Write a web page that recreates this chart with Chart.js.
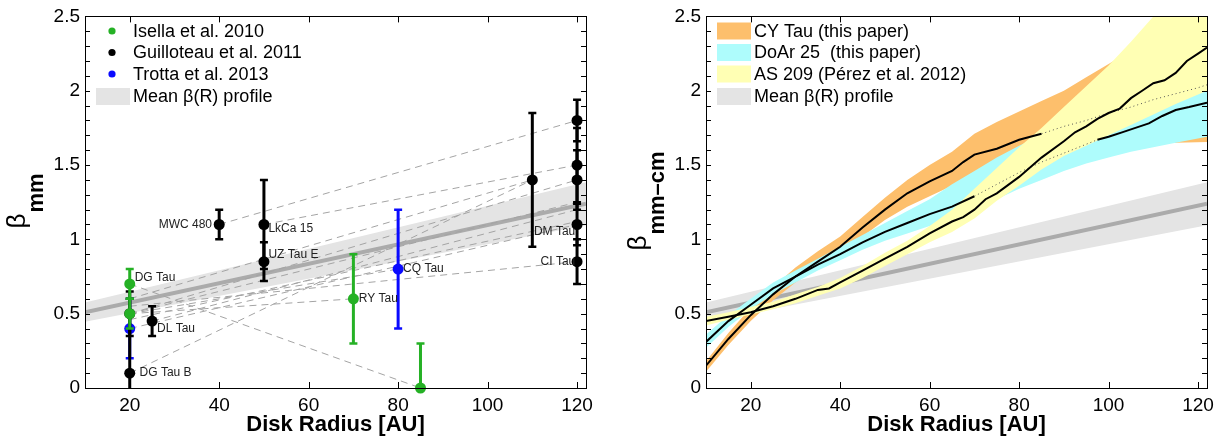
<!DOCTYPE html>
<html><head><meta charset="utf-8">
<script src="https://cdn.jsdelivr.net/npm/chart.js@4"></script>
<style>
html,body{margin:0;padding:0;background:#fff;}
#wrap{position:relative;width:1226px;height:438px;overflow:hidden;}
.pane{position:absolute;top:0;width:613px;height:438px;}
canvas{display:block;}
</style></head><body>
<div id="wrap">
<div class="pane" style="left:0"><canvas id="c1" width="613" height="438" style="width:613px;height:438px"></canvas></div>
<div class="pane" style="left:613px"><canvas id="c2" width="613" height="438" style="width:613px;height:438px"></canvas></div>
</div>
<script>
const FONT = '"Liberation Sans", Arial, Helvetica, sans-serif';

// ---------- shared axes ----------
const xTickValues = [20, 40, 60, 80, 100, 120];
const yTickValues = [0, 0.5, 1, 1.5, 2, 2.5];
const xTitle = 'Disk Radius [AU]';

// ---------- mean beta(R) profile ----------
const meanR = [10, 122];
const meanBeta = [0.51, 1.24];
const meanLo = [0.445, 1.095];
const meanHi = [0.575, 1.385];

// ---------- left panel: measurements ----------
const isellaR = [20, 20, 70, 85];
const isellaBeta = [0.7, 0.5, 0.6, 0.0];
const isellaLo = [0.6, 0.4, 0.3, -0.3];
const isellaHi = [0.8, 0.6, 0.9, 0.3];

const guillR = [20, 20, 25, 40, 50, 50, 110, 120, 120, 120, 120, 120];
const guillBeta = [0.5, 0.1, 0.45, 1.1, 1.1, 0.85, 1.4, 1.8, 1.5, 1.4, 1.1, 0.85];
const guillLo = [0.35, -0.4, 0.35, 1.0, 0.8, 0.72, 0.95, 1.66, 1.25, 1.2, 0.96, 0.7];
const guillHi = [0.65, 0.6, 0.55, 1.2, 1.4, 0.98, 1.85, 1.94, 1.75, 1.6, 1.24, 1.0];

const trottaR = [20, 80];
const trottaBeta = [0.4, 0.8];
const trottaLo = [0.2, 0.4];
const trottaHi = [0.6, 1.2];

// dashed connector lines (start R, start beta, end R, end beta)
const linkR0 = [40, 50, 20, 20, 20, 20, 20, 20, 20, 20, 25, 20, 20];
const linkB0 = [1.1, 1.1, 0.1, 0.7, 0.55, 0.46, 0.5, 0.5, 0.5, 0.5, 0.45, 0.6, 0.4];
const linkR1 = [120, 120, 110, 85, 120, 120, 120, 120, 80, 70, 120, 110, 120];
const linkB1 = [1.8, 1.5, 1.4, 0.0, 0.85, 1.12, 1.4, 1.25, 0.8, 0.6, 1.2, 1.4, 1.1];

const srcNames = ['DG Tau', 'DL Tau', 'DG Tau B', 'MWC 480', 'LkCa 15', 'UZ Tau E', 'RY Tau', 'CQ Tau', 'DM Tau', 'CI Tau'];
const srcLabelR = [21.1, 26.1, 22.2, 38.4, 51.0, 51.0, 71.2, 81.1, 119.6, 119.6];
const srcLabelBeta = [0.745, 0.40, 0.10, 1.10, 1.07, 0.90, 0.60, 0.80, 1.05, 0.85];
const srcLabelSide = ['left', 'left', 'left', 'right', 'left', 'left', 'left', 'left', 'right', 'right'];

const leftLegend = ['Isella et al. 2010', 'Guilloteau et al. 2011', 'Trotta et al. 2013', 'Mean β(R) profile'];

// ---------- right panel: radial profiles ----------
const cyR = [10, 15, 20, 25, 30, 35, 40, 45, 50, 55, 60, 65, 67.5, 70, 75, 80, 85, 90, 95, 100, 105, 110, 115, 120, 122];
const cyBeta = [0.15, 0.33, 0.49, 0.63, 0.75, 0.85, 0.95, 1.08, 1.20, 1.31, 1.39, 1.46, 1.52, 1.57, 1.61, 1.67, 1.71, 1.76, 1.80, 1.85, 1.89, 1.94, 1.98, 2.02, 2.04];

const doarR = [10, 15, 20, 25, 30, 35, 40, 45, 50, 55, 60, 65, 70, 75, 80, 85, 90, 95, 97.5, 100, 103, 106, 109, 112, 115, 118, 122];
const doarBeta = [0.31, 0.45, 0.56, 0.67, 0.75, 0.83, 0.90, 0.98, 1.05, 1.11, 1.17, 1.22, 1.29, 1.37, 1.45, 1.52, 1.58, 1.64, 1.67, 1.69, 1.72, 1.75, 1.78, 1.83, 1.87, 1.89, 1.92];

const asR = [10, 15, 20, 25, 30, 35, 37.5, 40, 45, 50, 55, 60, 65, 67.5, 70, 72.5, 75, 80, 85, 90, 92.5, 95, 97.5, 100, 102.5, 105, 107.5, 110, 112.5, 115, 117.5, 120, 122];
const asBeta = [0.45, 0.48, 0.51, 0.55, 0.60, 0.66, 0.67, 0.71, 0.79, 0.87, 0.95, 1.04, 1.12, 1.15, 1.20, 1.27, 1.31, 1.42, 1.55, 1.66, 1.72, 1.76, 1.81, 1.85, 1.88, 1.95, 2.00, 2.05, 2.07, 2.12, 2.20, 2.25, 2.29];

const bandR = [10, 15, 20, 25, 30, 35, 40, 45, 50, 55, 60, 65, 70, 75, 80, 85, 90, 95, 100, 105, 110, 115, 122];
const cyLo = [0.11, 0.29, 0.45, 0.59, 0.71, 0.81, 0.90, 1.02, 1.13, 1.22, 1.29, 1.36, 1.45, 1.52, 1.57, 1.60, 1.62, 1.63, 1.64, 1.645, 1.65, 1.65, 1.655];
const cyHi = [0.18, 0.37, 0.54, 0.68, 0.81, 0.92, 1.02, 1.15, 1.28, 1.40, 1.50, 1.59, 1.71, 1.79, 1.86, 1.93, 2.00, 2.09, 2.18, 2.27, 2.36, 2.45, 2.56];
const doarLo = [0.27, 0.41, 0.53, 0.63, 0.71, 0.79, 0.86, 0.93, 0.99, 1.04, 1.09, 1.14, 1.19, 1.27, 1.34, 1.40, 1.46, 1.51, 1.55, 1.59, 1.62, 1.65, 1.69];
const doarHi = [0.36, 0.49, 0.60, 0.71, 0.79, 0.87, 0.95, 1.03, 1.11, 1.19, 1.27, 1.37, 1.46, 1.55, 1.63, 1.70, 1.76, 1.81, 1.85, 1.89, 1.93, 1.97, 2.00];
const asLo = [0.42, 0.46, 0.495, 0.53, 0.57, 0.62, 0.67, 0.74, 0.82, 0.90, 0.98, 1.05, 1.14, 1.26, 1.36, 1.47, 1.56, 1.63, 1.70, 1.77, 1.84, 1.91, 2.00];
const asHi = [0.48, 0.51, 0.545, 0.58, 0.63, 0.68, 0.74, 0.82, 0.91, 0.99, 1.09, 1.20, 1.34, 1.48, 1.62, 1.75, 1.89, 2.03, 2.17, 2.33, 2.50, 2.66, 2.85];

const rightLegend = ['CY Tau (this paper)', 'DoAr 25  (this paper)', 'AS 209 (Pérez et al. 2012)', 'Mean β(R) profile'];

// ---------- styles ----------
const C_GREEN = '#25b125', C_BLACK = '#000000', C_BLUE = '#0a0aff';
const C_BAND = '#e4e4e4', C_MEAN = '#ababab';
const C_ORANGE = '#fdbf6c', C_CYAN = '#aefcfc', C_YELLOW = '#ffffb4';

function pts(xs, ys) { return xs.map((x, i) => ({ x: x, y: ys[i] })); }

function bandSets(R, lo, hi, color) {
  return [
    { data: pts(R, hi), showLine: true, borderWidth: 0, borderColor: 'rgba(0,0,0,0)', pointRadius: 0, fill: '+1', backgroundColor: color },
    { data: pts(R, lo), showLine: true, borderWidth: 0, borderColor: 'rgba(0,0,0,0)', pointRadius: 0, fill: false }
  ];
}
function meanLineSet() {
  return { data: pts(meanR, meanBeta), showLine: true, borderColor: C_MEAN, borderWidth: 4, pointRadius: 0, fill: false };
}
function errorSets(R, lo, hi, color) {
  return R.map((r, i) => ({
    data: [{ x: r, y: lo[i] }, { x: r, y: hi[i] }], showLine: true, borderColor: color, borderWidth: 3,
    pointStyle: 'line', pointRadius: 4, pointBorderWidth: 2.5, pointBorderColor: color, pointBackgroundColor: color, clip: 0, fill: false
  }));
}
function markerSet(R, B, color) {
  return { data: pts(R, B), showLine: false, pointStyle: 'circle', pointRadius: 5.5, pointBorderWidth: 0,
    pointBackgroundColor: color, pointBorderColor: color, clip: false };
}

// draw order: first in list drawn first (underneath)
function ordered(list) { return list.map((d, i) => Object.assign(d, { order: list.length - i })); }

// ---------- plugins ----------
const framePlugin = {
  id: 'frame',
  afterDraw(chart) {
    const ctx = chart.ctx, a = chart.chartArea, xs = chart.scales.x, ys = chart.scales.y;
    ctx.save();
    ctx.strokeStyle = '#000'; ctx.lineWidth = 1;
    ctx.strokeRect(Math.round(a.left) + 0.5, Math.round(a.top) + 0.5, Math.round(a.right - a.left), Math.round(a.bottom - a.top));
    ctx.beginPath();
    xTickValues.forEach(v => {
      const px = Math.round(xs.getPixelForValue(v)) + 0.5;
      ctx.moveTo(px, a.bottom); ctx.lineTo(px, a.bottom - 6);
      ctx.moveTo(px, a.top); ctx.lineTo(px, a.top + 6);
    });
    for (let k = 0; k <= 25; k++) {
      const py = Math.round(ys.getPixelForValue(k / 10)) + 0.5;
      ctx.moveTo(a.left, py); ctx.lineTo(a.left + 5, py);
      ctx.moveTo(a.right, py); ctx.lineTo(a.right - 5, py);
    }
    ctx.stroke();
    ctx.restore();
  }
};

function yTitlePlugin(sub) {
  return {
    id: 'ytitle',
    afterDraw(chart) {
      const ctx = chart.ctx, a = chart.chartArea;
      ctx.save();
      ctx.fillStyle = '#000';
      ctx.font = '26px ' + FONT;
      const wb = ctx.measureText('β').width;
      ctx.font = 'bold 22px ' + FONT;
      const ws = ctx.measureText(sub).width;
      const total = wb + 1 + ws;
      const cy = 201;
      ctx.translate(a.left - 60, cy + total / 2);
      ctx.rotate(-Math.PI / 2);
      ctx.textBaseline = 'alphabetic'; ctx.textAlign = 'left';
      ctx.font = '26px ' + FONT;
      ctx.fillText('β', 0, 0);
      ctx.font = 'bold 22px ' + FONT;
      ctx.fillText(sub, wb + 1, 18);
      ctx.restore();
    }
  };
}

function legendPlugin(texts, kinds, colors, x0) {
  const rows = [31, 52.5, 74, 96.5];
  return {
    id: 'legendbox',
    afterDraw(chart) {
      const ctx = chart.ctx;
      ctx.save();
      texts.forEach((t, i) => {
        const cy = rows[i];
        if (kinds[i] === 'dot') {
          ctx.fillStyle = colors[i];
          ctx.beginPath(); ctx.arc(x0 + 16, cy, 3.6, 0, Math.PI * 2); ctx.fill();
        } else {
          ctx.fillStyle = colors[i];
          ctx.fillRect(x0, cy - 8.5, 34, 17);
        }
        ctx.fillStyle = '#000';
        ctx.font = '18px ' + FONT;
        ctx.textBaseline = 'middle'; ctx.textAlign = 'left';
        ctx.fillText(t, x0 + 37, cy + 1);
      });
      ctx.restore();
    }
  };
}

const labelPlugin = {
  id: 'srclabels',
  afterDatasetsDraw(chart) {
    const ctx = chart.ctx, xs = chart.scales.x, ys = chart.scales.y;
    ctx.save();
    ctx.fillStyle = '#222';
    ctx.font = '12px ' + FONT;
    ctx.textBaseline = 'middle';
    srcNames.forEach((n, i) => {
      ctx.textAlign = srcLabelSide[i] === 'right' ? 'right' : 'left';
      ctx.fillText(n, xs.getPixelForValue(srcLabelR[i]), ys.getPixelForValue(srcLabelBeta[i]));
    });
    ctx.restore();
  }
};

function makeOptions(padRight, yWidth) {
  return {
    responsive: false, animation: false, events: [],
    layout: { padding: { top: 13, right: padRight, bottom: 0, left: 0 } },
    plugins: { legend: { display: false }, tooltip: { enabled: false } },
    scales: {
      x: {
        type: 'linear', min: 10, max: 122,
        afterBuildTicks: s => { s.ticks = xTickValues.map(v => ({ value: v })); },
        afterFit: s => { s.height = 50; },
        grid: { display: false, drawTicks: false }, border: { display: false },
        ticks: { color: '#000', font: { family: FONT, size: 19 }, padding: 6, maxRotation: 0, autoSkip: false, callback: v => String(v) },
        title: { display: true, text: xTitle, color: '#000', font: { family: FONT, size: 22, weight: 'bold' }, padding: { top: 0, bottom: 0 } }
      },
      y: {
        type: 'linear', min: 0, max: 2.5,
        afterBuildTicks: s => { s.ticks = yTickValues.map(v => ({ value: v })); },
        afterFit: s => { s.width = yWidth; },
        grid: { display: false, drawTicks: false }, border: { display: false },
        ticks: { color: '#000', font: { family: FONT, size: 19 }, padding: 5, autoSkip: false, callback: v => String(v) }
      }
    }
  };
}

// ---------- left chart ----------
const leftSets = [].concat(
  bandSets(meanR, meanLo, meanHi, C_BAND),
  [meanLineSet()],
  linkR0.map((r, i) => ({ data: [{ x: r, y: linkB0[i] }, { x: linkR1[i], y: linkB1[i] }], showLine: true,
    borderColor: '#a4a4a4', borderWidth: 1, borderDash: [7, 5], pointRadius: 0, fill: false })),
  errorSets(trottaR, trottaLo, trottaHi, C_BLUE),
  [markerSet(trottaR, trottaBeta, C_BLUE)],
  errorSets(guillR, guillLo, guillHi, C_BLACK),
  [markerSet(guillR, guillBeta, C_BLACK)],
  errorSets(isellaR, isellaLo, isellaHi, C_GREEN),
  [markerSet(isellaR, isellaBeta, C_GREEN)]
);
new Chart(document.getElementById('c1'), {
  type: 'scatter',
  data: { datasets: ordered(leftSets) },
  options: makeOptions(27, 85),
  plugins: [labelPlugin, framePlugin, yTitlePlugin('mm'),
    legendPlugin(leftLegend, ['dot', 'dot', 'dot', 'box'], [C_GREEN, C_BLACK, C_BLUE, C_BAND], 96)]
});

// ---------- right chart ----------
function profileSet(R, B, dotted) {
  return {
    data: pts(R, B), showLine: true, borderColor: '#000', borderWidth: 2, pointRadius: 0, fill: false,
    segment: {
      borderDash: c => dotted(c.p0.parsed.x, c.p1.parsed.x) ? [1, 3] : undefined,
      borderWidth: c => dotted(c.p0.parsed.x, c.p1.parsed.x) ? 1 : undefined,
      borderColor: c => dotted(c.p0.parsed.x, c.p1.parsed.x) ? '#555' : undefined
    }
  };
}
const rightSets = [].concat(
  bandSets(meanR, meanLo, meanHi, C_BAND),
  [meanLineSet()],
  bandSets(bandR, cyLo, cyHi, C_ORANGE),
  bandSets(bandR, doarLo, doarHi, C_CYAN),
  bandSets(bandR, asLo, asHi, C_YELLOW),
  [profileSet(cyR, cyBeta, (a, b) => a >= 85),
   profileSet(doarR, doarBeta, (a, b) => a >= 70 && b <= 97.5),
   profileSet(asR, asBeta, () => false)]
);
new Chart(document.getElementById('c2'), {
  type: 'scatter',
  data: { datasets: ordered(rightSets) },
  options: makeOptions(19, 93),
  plugins: [framePlugin, yTitlePlugin('mm–cm'),
    legendPlugin(rightLegend, ['box', 'box', 'box', 'box'], [C_ORANGE, C_CYAN, C_YELLOW, C_BAND], 104)]
});
</script>
</body></html>
